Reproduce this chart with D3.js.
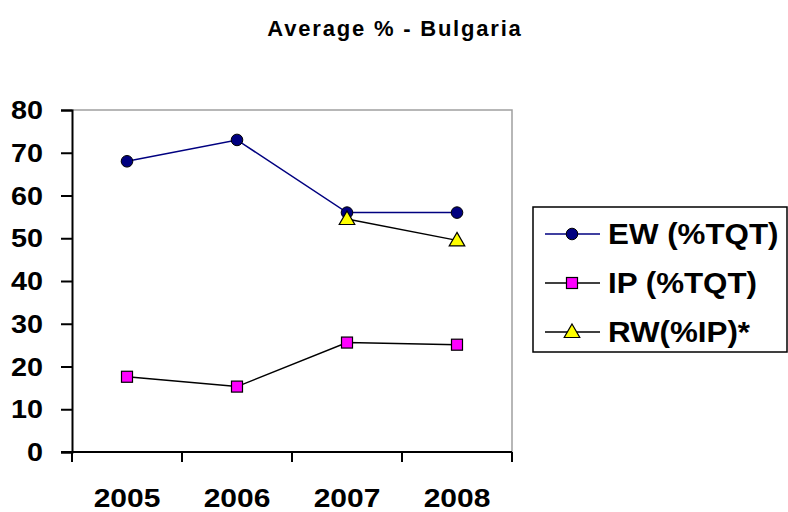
<!DOCTYPE html>
<html>
<head>
<meta charset="utf-8">
<script src="https://cdn.jsdelivr.net/npm/d3@7"></script>
<style>
  body { margin: 0; background: #fff; }
  svg { font-family: "Liberation Sans", Arial, sans-serif; }
</style>
</head>
<body>
<svg width="788" height="512"></svg>
<script>
// data
const years = ["2005", "2006", "2007", "2008"];
const ewValues = [68, 73, 56, 56];
const ipValues = [17.6, 15.3, 25.6, 25.1];
const rwValues = [null, null, 54.5, 49.5];
const yTicks = [0, 10, 20, 30, 40, 50, 60, 70, 80];

const width = 788, height = 512;
let margin = {top: 110, right: 276, bottom: 60, left: 72};

const svg = d3.select('svg');

const x = d3.scaleBand()
    .domain(years)
    .range([margin.left, width - margin.right]);

const y = d3.scaleLinear()
    .domain([0, 80])
    .range([height - margin.bottom, margin.top]);

// title
svg.append("text")
    .attr("x", 395)
    .attr("y", 36)
    .attr("text-anchor", "middle")
    .attr("font-size", "22px")
    .attr("font-weight", "bold")
    .attr("letter-spacing", "1.8px")
    .text("Average % - Bulgaria");

// plot frame (gray top and right)
svg.append("path")
    .attr("d", `M${margin.left},${margin.top}H${width - margin.right}V${height - margin.bottom}`)
    .attr("fill", "none")
    .attr("stroke", "#a0a0a0")
    .attr("stroke-width", 1.5);

// y axis, labels drawn separately so they can be widened
const yAxis = svg.append("g")
    .attr("transform", `translate(${margin.left},0)`)
    .call(d3.axisLeft(y).tickValues(yTicks).tickSize(11).tickFormat(""));
yAxis.select(".domain").attr("stroke-width", 2);
yAxis.selectAll(".tick line").attr("stroke-width", 2);

svg.selectAll(".ylab")
    .data(yTicks)
    .join("text")
    .attr("transform", d => `translate(43,${y(d)}) scale(1.15,1)`)
    .attr("dy", "0.36em")
    .attr("text-anchor", "end")
    .attr("font-size", "25px")
    .attr("font-weight", "bold")
    .text(d => d);

// x axis: ticks at category boundaries
const xAxisG = svg.append("g")
    .attr("transform", `translate(0,${height - margin.bottom})`);
xAxisG.append("line")
    .attr("x1", margin.left - 11).attr("x2", width - margin.right)
    .attr("stroke", "#000").attr("stroke-width", 2);
const bounds = years.map(d => x(d)).concat([x.range()[1]]);
xAxisG.selectAll(".xt")
    .data(bounds)
    .join("line")
    .attr("x1", d => d).attr("x2", d => d)
    .attr("y1", 0).attr("y2", 10)
    .attr("stroke", "#000").attr("stroke-width", 2);

svg.selectAll(".xlab")
    .data(years)
    .join("text")
    .attr("transform", d => `translate(${x(d) + x.bandwidth() / 2},507) scale(1.2,1)`)
    .attr("text-anchor", "middle")
    .attr("font-size", "25px")
    .attr("font-weight", "bold")
    .text(d => d);

const cx = (d, i) => x(years[i]) + x.bandwidth() / 2;

const line = d3.line()
    .defined(d => d != null)
    .x(cx)
    .y(d => y(d));

// EW line
svg.append("path")
    .attr("d", line(ewValues))
    .attr("fill", "none")
    .attr("stroke", "#000080")
    .attr("stroke-width", 1.5);

// IP line
svg.append("path")
    .attr("d", line(ipValues))
    .attr("fill", "none")
    .attr("stroke", "#000")
    .attr("stroke-width", 1.5);

// RW line
svg.append("path")
    .attr("d", line(rwValues))
    .attr("fill", "none")
    .attr("stroke", "#000")
    .attr("stroke-width", 1.5);

const triangle = d3.symbol().type(d3.symbolTriangle).size(105);

// markers
svg.selectAll(".ew")
    .data(ewValues)
    .join("circle")
    .attr("cx", cx)
    .attr("cy", d => y(d))
    .attr("r", 5.8)
    .attr("fill", "#000080")
    .attr("stroke", "#000")
    .attr("stroke-width", 1);

svg.selectAll(".ip")
    .data(ipValues)
    .join("rect")
    .attr("x", (d, i) => cx(d, i) - 5.5)
    .attr("y", d => y(d) - 5.5)
    .attr("width", 11)
    .attr("height", 11)
    .attr("fill", "#ff00ff")
    .attr("stroke", "#000")
    .attr("stroke-width", 1.2);

svg.selectAll(".rw")
    .data(rwValues.map((d, i) => ({v: d, i: i})).filter(d => d.v != null))
    .join("path")
    .attr("d", triangle)
    .attr("transform", d => `translate(${cx(d.v, d.i)},${y(d.v) + 1})`)
    .attr("fill", "#ffff00")
    .attr("stroke", "#000")
    .attr("stroke-width", 1.2);

// legend
const legend = svg.append("g");
legend.append("rect")
    .attr("x", 533).attr("y", 207)
    .attr("width", 254).attr("height", 145)
    .attr("fill", "#fff")
    .attr("stroke", "#000")
    .attr("stroke-width", 1.5);

const legendItems = [
  {name: "EW (%TQT)", color: "#000080", marker: "circle", fill: "#000080"},
  {name: "IP (%TQT)", color: "#000", marker: "square", fill: "#ff00ff"},
  {name: "RW(%IP)*", color: "#000", marker: "triangle", fill: "#ffff00"}
];
const legendY = [234, 283, 332];

legendItems.forEach((d, i) => {
  const g = legend.append("g").attr("transform", `translate(0,${legendY[i]})`);
  g.append("line")
      .attr("x1", 545).attr("x2", 600)
      .attr("stroke", d.color).attr("stroke-width", 1.5);
  if (d.marker == "circle") {
    g.append("circle").attr("cx", 572).attr("r", 5.8)
        .attr("fill", d.fill).attr("stroke", "#000");
  } else if (d.marker == "square") {
    g.append("rect").attr("x", 566.5).attr("y", -5.5).attr("width", 11).attr("height", 11)
        .attr("fill", d.fill).attr("stroke", "#000").attr("stroke-width", 1.2);
  } else {
    g.append("path").attr("d", triangle()).attr("transform", "translate(572,1)")
        .attr("fill", d.fill).attr("stroke", "#000").attr("stroke-width", 1.2);
  }
  g.append("text")
      .attr("transform", "translate(608,10) scale(1.08,1)")
      .attr("font-size", "29px")
      .attr("font-weight", "bold")
      .text(d.name);
});
</script>
</body>
</html>
